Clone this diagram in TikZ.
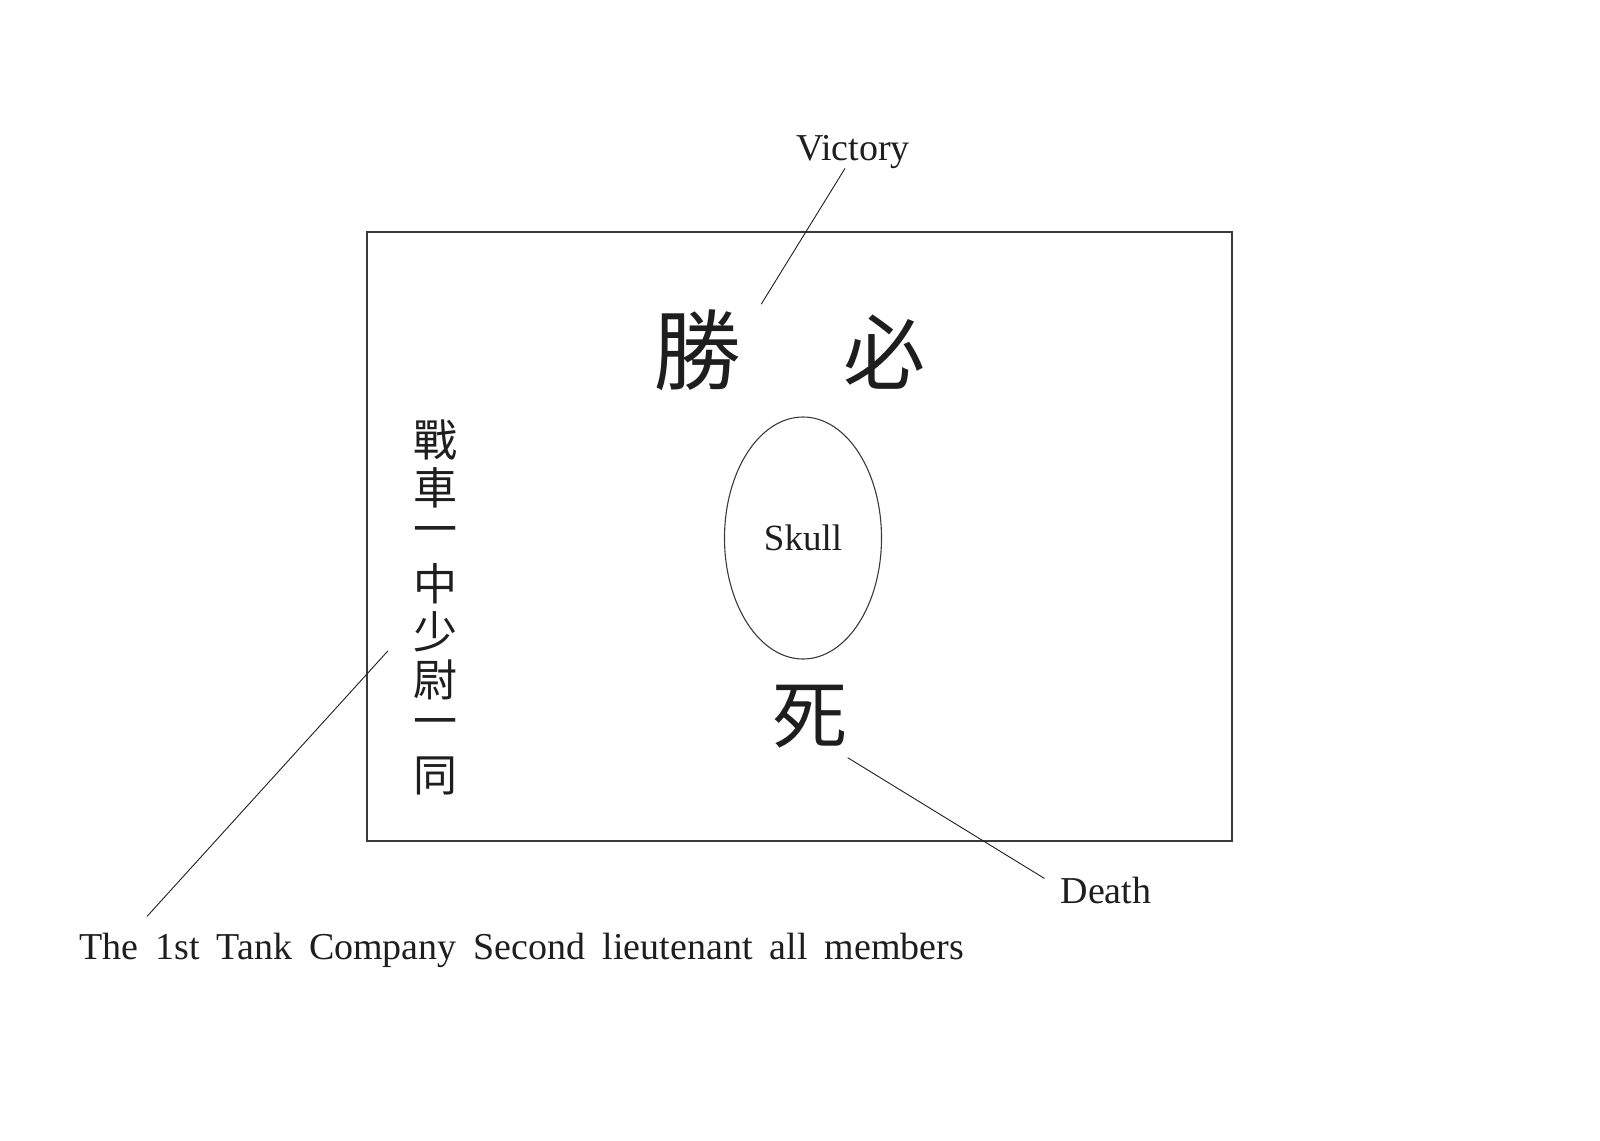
\documentclass[tikz,border=0pt]{standalone}
\usepackage{fontspec}
\setmainfont{Liberation Serif}
\newfontfamily\cjk{Noto Sans CJK TC}
\usetikzlibrary{positioning,shapes.geometric,calc}
\definecolor{ink}{HTML}{1E1E1E}
\definecolor{framegray}{HTML}{3A3A3A}
\newcommand{\widewords}{\spaceskip=17pt plus 2pt\relax}
\tikzset{
    flagbox/.style={
        draw=framegray, line width=1.4pt
    },
    skullring/.style={
        draw=framegray, ellipse, line width=1.1pt,
        minimum width=157pt, minimum height=242pt, inner sep=0pt,
        text=ink, font=\fontsize{37}{40}\selectfont
    },
    labeltext/.style={
        text=ink, inner sep=2pt,
        font=\fontsize{38}{42}\selectfont
    },
    cjkbig/.style={
        text=ink, inner sep=0pt,
        font=\cjk\fontsize{88}{90}\selectfont
    },
    cjkcol/.style={
        text=ink, inner sep=0pt,
        font=\cjk\fontsize{44}{48}\selectfont
    },
    leader/.style={draw=ink, line width=0.9pt},
}

\begin{document}
\begin{tikzpicture}[x=1pt, y=-1pt]
    \useasboundingbox (0,0) rectangle (1600,1140);
    \draw[flagbox] (367,232) rectangle (1232,841);
    % slogan and skull
    \node[cjkbig] (sho) at (697,350) {勝};
    \node[cjkbig, font=\cjk\fontsize{82}{86}\selectfont] (hitsu) at (884,352) {必};
    \node[skullring] (skull) at (803,538) {Skull};
    \node[cjkbig, font=\cjk\fontsize{75}{78}\selectfont] (shi) at (810,717) {死};
    % signature column
    \foreach \ch [count=\i] in {戰,車,一,中,少,尉,一,同}
        \node[cjkcol] (col\i) at (435,{440+48*(\i-1)}) {\ch};
    % captions
    \node[labeltext, anchor=base] (victory) at (853,160) {Victory};
    \node[labeltext, anchor=base] (death) at (1106,903) {Death};
    \node[labeltext, anchor=base west] (members) at (77,959) {\widewords The 1st Tank Company Second lieutenant all members};
    \draw[leader] ($(victory.south)+(-8,-2)$) -- ($(sho.north east)+(20,-5)$);
    \draw[leader] ($(shi.south east)+(0,9)$) -- ($(death.north west)+(-14,4)$);
    \draw[leader] ($(col6.west)+(-25,-29)$) -- ($(members.north west)+(70,-14)$);
\end{tikzpicture}
\end{document}
